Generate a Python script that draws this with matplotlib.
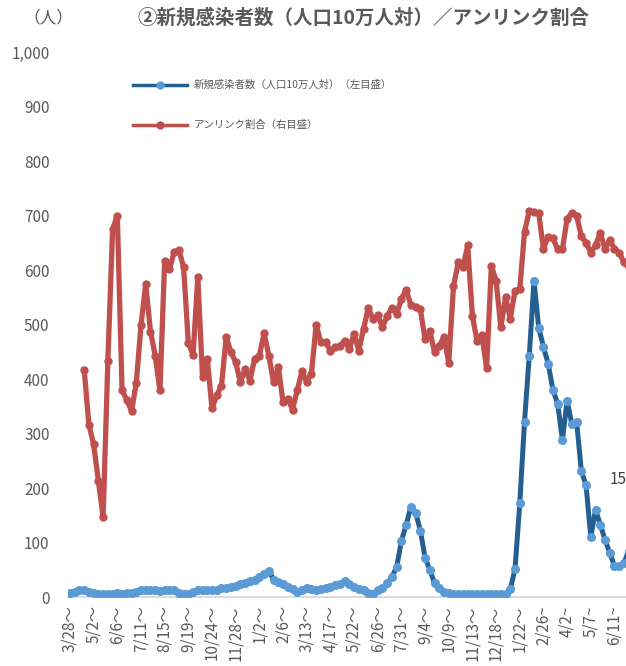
import matplotlib
matplotlib.use("Agg")
import matplotlib.pyplot as plt
import numpy as np
from matplotlib.lines import Line2D
from matplotlib.ticker import FuncFormatter

plt.rcParams["font.family"] = ["Noto Sans CJK JP", "DejaVu Sans"]

GRAY = "#595959"
BLUE_LINE = "#255E91"
BLUE_MARK = "#5B9BD5"
RED = "#C0504D"

# week start labels, one every 5 weeks
week_labels = [
    "3/28～", "5/2～", "6/6～", "7/11～", "8/15～", "9/19～", "10/24～", "11/28～",
    "1/2～", "2/6～", "3/13～", "4/17～", "5/22～", "6/26～", "7/31～", "9/4～",
    "10/9～", "11/13～", "12/18～", "1/22～", "2/26~", "4/2~", "5/7~", "6/11~",
]

# new cases per 100k population (left axis), weekly
new_cases = [
    7, 10, 12, 12, 10, 7, 6, 6, 6, 6,
    7, 6, 7, 8, 10, 12, 12, 12, 12, 11,
    12, 12, 12, 7, 5, 6, 9, 12, 12, 12,
    12, 13, 16, 17, 18, 21, 23, 26, 29, 32,
    37, 43, 48, 32, 28, 24, 18, 14, 10, 12,
    16, 14, 12, 14, 16, 18, 22, 24, 29, 24,
    18, 14, 12, 8, 6, 12, 16, 25, 37, 55,
    103, 132, 166, 155, 122, 72, 50, 25, 16, 10,
    7, 5, 5, 5, 5, 5, 5, 5, 5, 5,
    5, 5, 5, 14, 52, 172, 322, 442, 580, 494,
    459, 428, 380, 355, 288, 360, 317, 322, 231, 205,
    110, 160, 133, 105, 81, 57, 57, 62, 85,
]

# unlinked share in % (right axis), starts in week 4
unlinked = [
    np.nan, np.nan, np.nan,
    41.7, 31.6, 28.0, 21.3, 14.6, 43.3, 67.5, 70.0, 37.9, 36.2,
    34.1, 39.2, 49.9, 57.5, 48.7, 44.3, 37.9, 61.7, 60.1, 63.3,
    63.7, 60.5, 46.6, 44.4, 58.7, 40.3, 43.7, 34.6, 37.0, 38.8,
    47.7, 44.9, 43.1, 39.4, 41.9, 39.7, 43.7, 44.3, 48.4, 44.3,
    39.4, 42.2, 35.8, 36.4, 34.4, 37.9, 41.4, 39.5, 41.0, 50.0,
    46.7, 46.7, 45.2, 45.8, 46.1, 47.0, 45.5, 48.3, 45.2, 49.2,
    53.0, 51.0, 51.7, 49.5, 51.6, 53.1, 51.9, 54.7, 56.4, 53.6,
    53.3, 52.8, 47.3, 48.9, 44.9, 46.1, 47.7, 43.0, 57.0, 61.4,
    60.5, 64.5, 51.5, 46.9, 48.1, 42.0, 60.8, 58.0, 49.5, 55.0,
    51.1, 56.2, 56.5, 67.0, 70.8, 70.6, 70.4, 63.9, 66.1, 65.8,
    63.8, 63.8, 69.4, 70.5, 70.0, 66.2, 65.0, 63.2, 64.5, 66.8,
    63.9, 65.5, 63.9, 63.2, 61.4, 60.5,
]

x = np.arange(len(new_cases))

fig = plt.figure(figsize=(6.26, 6.66), dpi=100)
ax = fig.add_axes([0.108, 0.1036, 0.953, 0.8183])
ax.set_xlim(-0.5, 125.5)
ax.set_ylim(0, 1000)

for s in ["top", "left", "right"]:
    ax.spines[s].set_visible(False)
ax.spines["bottom"].set_color("#D9D9D9")
ax.spines["bottom"].set_linewidth(1.3)

ax.set_yticks(np.arange(0, 1001, 100))
ax.yaxis.set_major_formatter(FuncFormatter(lambda v, p: f"{int(v):,}"))
ax.set_xticks(x[::5][:len(week_labels)])
ax.set_xticklabels(week_labels, rotation=90, va="top", ha="center")
ax.tick_params(axis="y", length=0, pad=13, labelcolor=GRAY, labelsize=11)
ax.tick_params(axis="x", length=0, pad=6, labelcolor=GRAY, labelsize=11)

ax.plot(x, new_cases, color=BLUE_LINE, lw=3.6, marker="o", ms=5.5,
        mfc=BLUE_MARK, mec=BLUE_MARK, zorder=3)

ax2 = ax.twinx()
ax2.set_ylim(0, 100)
for s in ax2.spines.values():
    s.set_visible(False)
ax2.set_yticks([])
ax2.plot(x, unlinked, color=RED, lw=3.8, marker="o", ms=5, mfc=RED, mec=RED)

handles = [
    Line2D([], [], color=BLUE_LINE, lw=2.5, marker="o", ms=5, mfc=BLUE_MARK, mec=BLUE_MARK),
    Line2D([], [], color=RED, lw=2.5, marker="o", ms=5, mfc=RED, mec=RED),
]
ax2.legend(handles, ["新規感染者数（人口10万人対）（左目盛）", "アンリンク割合（右目盛）"],
           loc="upper left", bbox_to_anchor=(133 / 626, 1 - 80 / 666),
           bbox_transform=fig.transFigure, frameon=False, borderpad=0,
           borderaxespad=0, handlelength=5.2, handletextpad=0.6,
           labelspacing=2.9, fontsize=7.5, labelcolor=GRAY, numpoints=1)

fig.text(363 / 626, 1 - 18 / 666, "②新規感染者数（人口10万人対）／アンリンク割合",
         ha="center", va="center", fontsize=14, fontweight="bold", color=GRAY)
fig.text(48 / 626, 1 - 18 / 666, "（人）", ha="center", va="center",
         fontsize=12, color=GRAY)
fig.text(610 / 626, 1 - 480 / 666, "15", ha="left", va="center",
         fontsize=11, color="#404040")

fig.savefig("out.png", dpi=100)
